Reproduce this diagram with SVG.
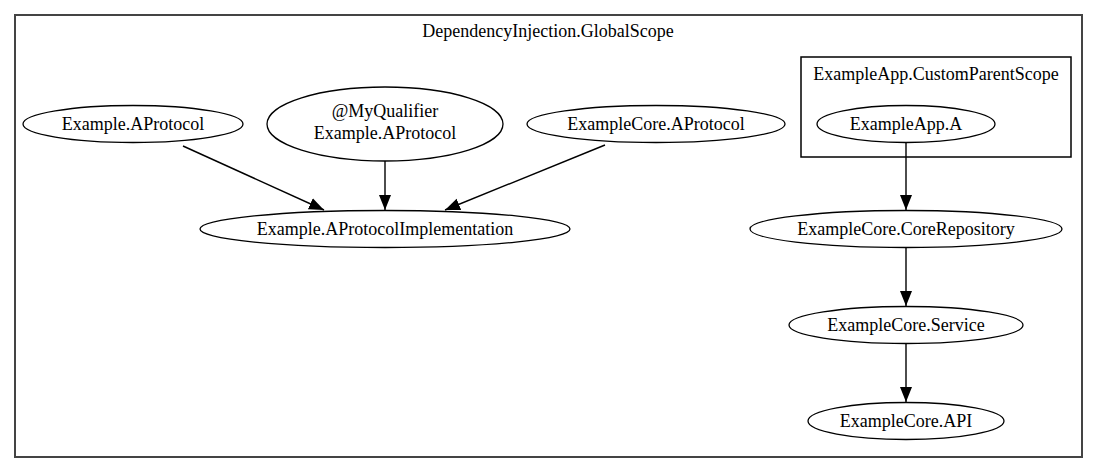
<svg xmlns="http://www.w3.org/2000/svg" width="1097" height="473" viewBox="0 0 1097 473">
<style>
text{font-family:"Liberation Serif","Times New Roman",serif;font-size:18px;fill:#000;text-anchor:middle}
.node ellipse{fill:none;stroke:#000;stroke-width:1.3}
.edges path{fill:none;stroke:#000;stroke-width:1.4}
</style>
<defs>
<marker id="arr" markerUnits="userSpaceOnUse" markerWidth="16" markerHeight="14" refX="15" refY="7" orient="auto">
<path d="M0,1 L15,7 L0,13 Z" fill="#000"/>
</marker>
</defs>
<rect x="0" y="0" width="1097" height="473" fill="#fff"/>
<g id="cluster-global">
<rect x="15" y="15" width="1067" height="442" fill="none" stroke="#444" stroke-width="2"/>
<text x="548" y="37">DependencyInjection.GlobalScope</text>
</g>
<g id="cluster-custom">
<rect x="801" y="57" width="270" height="100" fill="none" stroke="#000" stroke-width="1.5"/>
<text x="936" y="80">ExampleApp.CustomParentScope</text>
</g>
<g class="edges" id="connectors">
<path d="M183,146 L324,210" marker-end="url(#arr)"/>
<path d="M385,161 L385,210" marker-end="url(#arr)"/>
<path d="M605,145 L445,210" marker-end="url(#arr)"/>
<path d="M906,142 L906,210" marker-end="url(#arr)"/>
<path d="M906,247 L906,306" marker-end="url(#arr)"/>
<path d="M906,343 L906,402" marker-end="url(#arr)"/>
</g>
<g class="node" id="n-example-aprotocol">
<ellipse cx="133" cy="124" rx="110" ry="18.5"/>
<text x="133" y="130">Example.AProtocol</text>
</g>
<g class="node" id="n-myqualifier">
<ellipse cx="385" cy="124" rx="118" ry="37"/>
<text x="385" y="117">@MyQualifier</text>
<text x="385" y="139">Example.AProtocol</text>
</g>
<g class="node" id="n-core-aprotocol">
<ellipse cx="656" cy="124" rx="129" ry="18.5"/>
<text x="656" y="130">ExampleCore.AProtocol</text>
</g>
<g class="node" id="n-app-a">
<ellipse cx="906" cy="124" rx="89" ry="18.5"/>
<text x="906" y="130">ExampleApp.A</text>
</g>
<g class="node" id="n-impl">
<ellipse cx="385" cy="229" rx="185" ry="18.5"/>
<text x="385" y="235">Example.AProtocolImplementation</text>
</g>
<g class="node" id="n-repo">
<ellipse cx="906" cy="229" rx="156" ry="18.5"/>
<text x="906" y="235">ExampleCore.CoreRepository</text>
</g>
<g class="node" id="n-service">
<ellipse cx="906" cy="325" rx="117" ry="18.5"/>
<text x="906" y="331">ExampleCore.Service</text>
</g>
<g class="node" id="n-api">
<ellipse cx="906" cy="421" rx="98" ry="18.5"/>
<text x="906" y="427">ExampleCore.API</text>
</g>
</svg>
